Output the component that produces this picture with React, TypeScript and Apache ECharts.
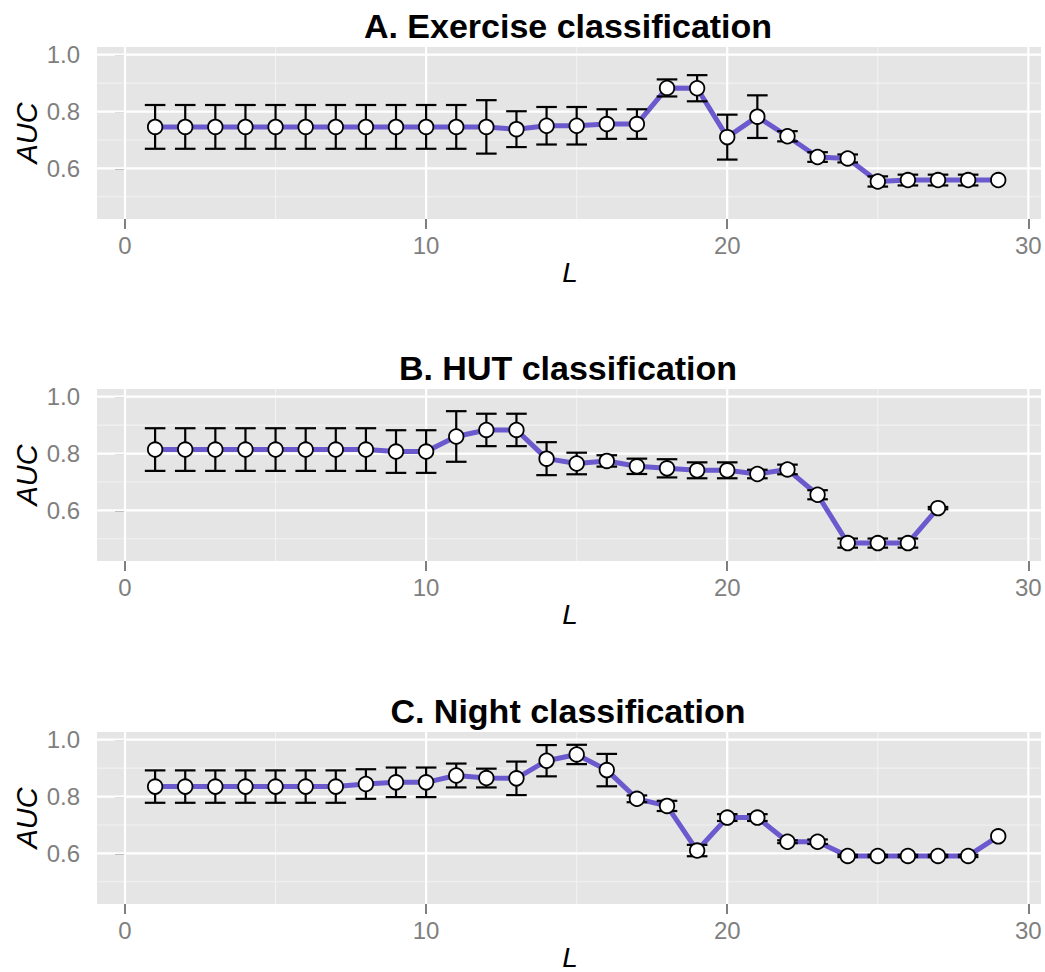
import React, { useEffect, useRef } from "react";
import * as echarts from "echarts";

// ---------- data ----------
const L_A = [1, 2, 3, 4, 5, 6, 7, 8, 9, 10, 11, 12, 13, 14, 15, 16, 17, 18, 19, 20, 21, 22, 23, 24, 25, 26, 27, 28, 29];
const AUC_A = [0.746, 0.746, 0.746, 0.746, 0.746, 0.746, 0.746, 0.746, 0.746, 0.746, 0.746, 0.746, 0.738, 0.75, 0.75, 0.756, 0.756, 0.883, 0.882, 0.71, 0.782, 0.713, 0.64, 0.635, 0.554, 0.559, 0.559, 0.559, 0.559];
const SE_A = [0.077, 0.077, 0.077, 0.077, 0.077, 0.077, 0.077, 0.077, 0.077, 0.077, 0.077, 0.094, 0.063, 0.066, 0.066, 0.052, 0.052, 0.03, 0.046, 0.079, 0.075, 0.018, 0.017, 0.014, 0.018, 0.019, 0.019, 0.019, 0];

const L_B = [1, 2, 3, 4, 5, 6, 7, 8, 9, 10, 11, 12, 13, 14, 15, 16, 17, 18, 19, 20, 21, 22, 23, 24, 25, 26, 27];
const AUC_B = [0.814, 0.814, 0.814, 0.814, 0.814, 0.814, 0.814, 0.814, 0.807, 0.807, 0.86, 0.883, 0.883, 0.782, 0.765, 0.774, 0.755, 0.748, 0.741, 0.741, 0.728, 0.744, 0.655, 0.485, 0.485, 0.485, 0.608];
const SE_B = [0.075, 0.075, 0.075, 0.075, 0.075, 0.075, 0.075, 0.075, 0.075, 0.075, 0.089, 0.057, 0.057, 0.058, 0.038, 0.02, 0.027, 0.032, 0.028, 0.028, 0.015, 0.017, 0.016, 0.016, 0.016, 0.016, 0.004];

const L_C = [1, 2, 3, 4, 5, 6, 7, 8, 9, 10, 11, 12, 13, 14, 15, 16, 17, 18, 19, 20, 21, 22, 23, 24, 25, 26, 27, 28, 29];
const AUC_C = [0.835, 0.835, 0.835, 0.835, 0.835, 0.835, 0.835, 0.844, 0.85, 0.85, 0.874, 0.865, 0.864, 0.926, 0.948, 0.893, 0.792, 0.767, 0.61, 0.726, 0.726, 0.641, 0.641, 0.591, 0.591, 0.591, 0.591, 0.591, 0.66];
const SE_C = [0.057, 0.057, 0.057, 0.057, 0.057, 0.057, 0.057, 0.052, 0.052, 0.052, 0.042, 0.033, 0.059, 0.055, 0.034, 0.057, 0.012, 0.018, 0.02, 0.012, 0.012, 0.005, 0.008, 0.004, 0.004, 0.004, 0.004, 0.004, 0];

const TITLES = ["A. Exercise classification", "B. HUT classification", "C. Night classification"];
const X_LABEL = "L";
const Y_LABEL = "AUC";
const X_TICKS = [0, 10, 20, 30];
const X_MINOR = [5, 15, 25];
const Y_TICKS = [0.6, 0.8, 1.0];
const Y_MINOR = [0.5, 0.7, 0.9];

// ---------- layout ----------
const FONT = "'Liberation Sans', Arial, Helvetica, sans-serif";
const GRID_LEFT = 97;
const GRID_WIDTH = 944;
const GRID_HEIGHT = 172;
const GRID_TOPS = [47, 389, 732];
const X_MIN = -0.93;
const X_MAX = 30.42;
const Y_MIN = 0.422;
const Y_MAX = 1.027;
const LINE_COLOR = "#6A5ACD";
const GREY = "#7F7F7F";

function gridSeries(i: number) {
  const mk = (vals: number[], horizontal: boolean, color: string, width: number) => ({
    type: "custom",
    xAxisIndex: i,
    yAxisIndex: i,
    silent: true,
    z: 1,
    data: vals.map((v) => (horizontal ? [0, v] : [v, 0.6])),
    renderItem: (params: any, api: any) => {
      const cs = params.coordSys;
      if (horizontal) {
        const y = api.coord([0, api.value(1)])[1];
        return { type: "line", shape: { x1: cs.x, y1: y, x2: cs.x + cs.width, y2: y }, style: { stroke: color, lineWidth: width } };
      }
      const x = api.coord([api.value(0), 0.6])[0];
      return { type: "line", shape: { x1: x, y1: cs.y, x2: x, y2: cs.y + cs.height }, style: { stroke: color, lineWidth: width } };
    },
  });
  return [
    mk(Y_MINOR, true, "#F2F2F2", 1.1),
    mk(X_MINOR, false, "#F2F2F2", 1.1),
    mk(Y_TICKS, true, "#FFFFFF", 2.2),
    mk(X_TICKS, false, "#FFFFFF", 2.2),
  ];
}

function panelSeries(i: number, xs: number[], auc: number[], se: number[]) {
  const pts = xs.map((x, k) => [x, auc[k]]);
  const bars = xs
    .map((x, k) => [x, auc[k] - se[k], auc[k] + se[k], se[k]])
    .filter((d) => d[3] > 0);
  return [
    ...gridSeries(i),
    {
      type: "line",
      xAxisIndex: i,
      yAxisIndex: i,
      data: pts,
      symbol: "none",
      z: 2,
      lineStyle: { color: LINE_COLOR, width: 5, opacity: 1 },
    },
    {
      type: "custom",
      xAxisIndex: i,
      yAxisIndex: i,
      z: 3,
      data: bars,
      renderItem: (params: any, api: any) => {
        const x = api.value(0);
        const lo = api.coord([x, api.value(1)]);
        const hi = api.coord([x, api.value(2)]);
        const hw = 10.3;
        const st = { stroke: "#000", lineWidth: 2.2 };
        return {
          type: "group",
          children: [
            { type: "line", shape: { x1: lo[0], y1: lo[1], x2: hi[0], y2: hi[1] }, style: st },
            { type: "line", shape: { x1: lo[0] - hw, y1: lo[1], x2: lo[0] + hw, y2: lo[1] }, style: st },
            { type: "line", shape: { x1: hi[0] - hw, y1: hi[1], x2: hi[0] + hw, y2: hi[1] }, style: st },
          ],
        };
      },
    },
    {
      type: "scatter",
      xAxisIndex: i,
      yAxisIndex: i,
      z: 4,
      data: pts,
      symbol: "circle",
      symbolSize: 14.5,
      itemStyle: { color: "#FFFFFF", borderColor: "#000000", borderWidth: 1.8, opacity: 1 },
    },
  ];
}

export default function App() {
  const ref = useRef<HTMLDivElement>(null);
  useEffect(() => {
    if (!ref.current) return;
    const chart = echarts.init(ref.current, undefined, { renderer: "svg" });
    const grids = GRID_TOPS.map((top) => ({
      left: GRID_LEFT,
      top,
      width: GRID_WIDTH,
      height: GRID_HEIGHT,
      show: true,
      backgroundColor: "#E5E5E5",
      borderWidth: 0,
    }));
    const xAxes = GRID_TOPS.map((_, i) => ({
      gridIndex: i,
      type: "value",
      min: X_MIN,
      max: X_MAX,
      axisLine: { show: false },
      splitLine: { show: false },
      axisTick: { show: true, length: 10, lineStyle: { color: GREY, width: 2 }, customValues: X_TICKS },
      axisLabel: { customValues: X_TICKS, color: GREY, fontSize: 24, fontFamily: FONT, margin: 14 },
    }));
    const yAxes = GRID_TOPS.map((_, i) => ({
      gridIndex: i,
      type: "value",
      min: Y_MIN,
      max: Y_MAX,
      axisLine: { show: false },
      splitLine: { show: false },
      axisTick: { show: true, length: 10, lineStyle: { color: GREY, width: 2 }, customValues: Y_TICKS },
      axisLabel: {
        customValues: Y_TICKS,
        color: GREY,
        fontSize: 24,
        fontFamily: FONT,
        margin: 17,
        formatter: (v: number) => v.toFixed(1),
      },
    }));
    const series = [
      ...panelSeries(0, L_A, AUC_A, SE_A),
      ...panelSeries(1, L_B, AUC_B, SE_B),
      ...panelSeries(2, L_C, AUC_C, SE_C),
    ];
    const graphic: any[] = [];
    GRID_TOPS.forEach((top, i) => {
      graphic.push({
        type: "text",
        x: GRID_LEFT + GRID_WIDTH / 2 - 1,
        y: top - 21,
        style: { text: TITLES[i], font: `bold 34px ${FONT}`, fill: "#000", textAlign: "center", textVerticalAlign: "middle" },
      });
      graphic.push({
        type: "text",
        x: 27,
        y: top + GRID_HEIGHT / 2,
        rotation: Math.PI / 2,
        style: { text: Y_LABEL, font: `italic 29px ${FONT}`, fill: "#000", textAlign: "center", textVerticalAlign: "middle" },
      });
      graphic.push({
        type: "text",
        x: 570,
        y: top + GRID_HEIGHT + 53,
        style: { text: X_LABEL, font: `italic 28px ${FONT}`, fill: "#000", textAlign: "center", textVerticalAlign: "middle" },
      });
    });
    chart.setOption({
      animation: false,
      backgroundColor: "#FFFFFF",
      grid: grids,
      xAxis: xAxes,
      yAxis: yAxes,
      series,
      graphic,
    });
    return () => chart.dispose();
  }, []);
  return (
    <div
      ref={ref}
      style={{ position: "absolute", left: 0, top: 0, width: 1045, height: 972 }}
    />
  );
}
